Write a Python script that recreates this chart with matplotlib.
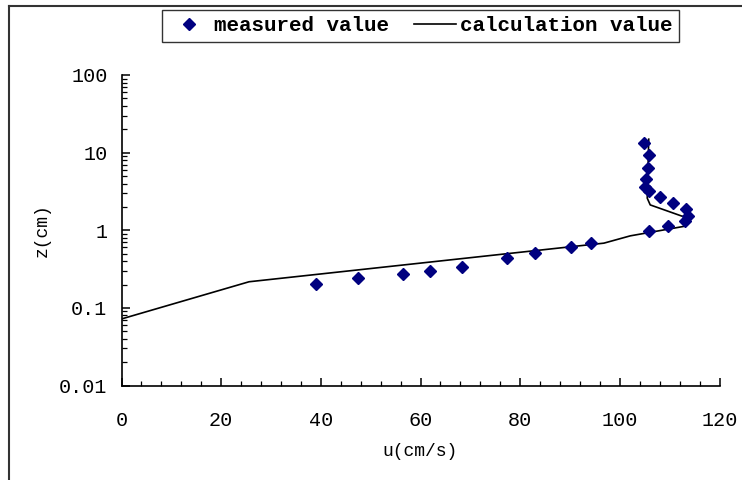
import matplotlib
matplotlib.use("Agg")
import matplotlib.pyplot as plt
from matplotlib.lines import Line2D
from matplotlib.ticker import FixedLocator, LogLocator, NullFormatter, MultipleLocator

plt.rcParams['font.family'] = ['Liberation Mono', 'DejaVu Sans Mono']

# measured velocity profile
u_measured = [39.0, 47.4, 56.4, 62.0, 68.3, 77.3, 82.9, 90.3, 94.2,
              105.9, 109.6, 113.0, 113.6, 113.3, 110.6, 108.1, 105.9,
              105.1, 105.2, 105.7, 105.9, 104.9]
z_measured = [0.206, 0.242, 0.275, 0.300, 0.341, 0.438, 0.516, 0.611, 0.695,
              0.99, 1.15, 1.33, 1.53, 1.89, 2.27, 2.71, 3.21,
              3.65, 4.55, 6.41, 9.26, 13.2]

# calculated velocity profile
u_calc = [0.0, 25.6, 96.8, 102.1, 112.8, 113.1, 106.1, 105.5, 105.8]
z_calc = [0.072, 0.217, 0.682, 0.847, 1.12, 1.47, 2.12, 2.59, 14.9]

x_ticks = [0, 20, 40, 60, 80, 100, 120]
y_ticks = [0.01, 0.1, 1, 10, 100]
y_tick_labels = ["0.01", "0.1", "1", "10", "100"]

W, H = 742, 480
fig = plt.figure(figsize=(W / 100, H / 100), dpi=100)
ax = fig.add_axes([121.5 / W, 1 - 385.5 / H, (719.5 - 121.5) / W, (385.5 - 75) / H])

ax.plot(u_calc, z_calc, color='black', lw=1.2, zorder=2,
        solid_joinstyle='round')
ax.plot(u_measured, z_measured, linestyle='none', marker='D', ms=6.5,
        color='#000080', zorder=3)

ax.set_yscale('log')
ax.set_xlim(0, 120)
ax.set_ylim(0.01, 100)

ax.xaxis.set_major_locator(FixedLocator(x_ticks))
ax.xaxis.set_minor_locator(MultipleLocator(4))
ax.yaxis.set_major_locator(FixedLocator(y_ticks))
ax.set_yticklabels(y_tick_labels)
ax.yaxis.set_minor_locator(LogLocator(base=10, subs=range(2, 10)))
ax.yaxis.set_minor_formatter(NullFormatter())

for s in ('top', 'right'):
    ax.spines[s].set_visible(False)
for s in ('left', 'bottom'):
    ax.spines[s].set_linewidth(1.2)
    ax.spines[s].set_color('black')

ax.tick_params(which='major', direction='in', length=6, width=1.1,
               labelsize=14.5, colors='black')
ax.tick_params(which='minor', direction='in', length=3.5, width=0.9)
ax.tick_params(axis='x', which='major', pad=18)
ax.tick_params(axis='y', which='major', pad=10)

ax.set_xlabel('u(cm/s)', fontsize=13, labelpad=10)
ax.set_ylabel('z(cm)', fontsize=13, labelpad=6)

handles = [
    Line2D([], [], linestyle='none', marker='D', ms=6.5, color='#000080'),
    Line2D([], [], color='black', lw=1.2),
]
leg = fig.legend(handles, ['measured value', 'calculation value'],
                 loc='upper center', bbox_to_anchor=(420.5 / W, 1 - 10 / H),
                 ncol=2, frameon=True, fancybox=False,
                 prop={'weight': 'bold', 'size': 15},
                 handlelength=2.0, handletextpad=0.2, columnspacing=1.2,
                 borderpad=0.3, borderaxespad=0)
leg.get_frame().set_edgecolor('black')
leg.get_frame().set_linewidth(1.0)

# chart-area border
fig.add_artist(Line2D([8.5 / W, 8.5 / W], [0, 1 - 6 / H], color='#333333', lw=1.5,
                      transform=fig.transFigure))
fig.add_artist(Line2D([8.5 / W, 1], [1 - 6 / H, 1 - 6 / H], color='#333333', lw=1.5,
                      transform=fig.transFigure))

fig.savefig('out.png', dpi=100)
